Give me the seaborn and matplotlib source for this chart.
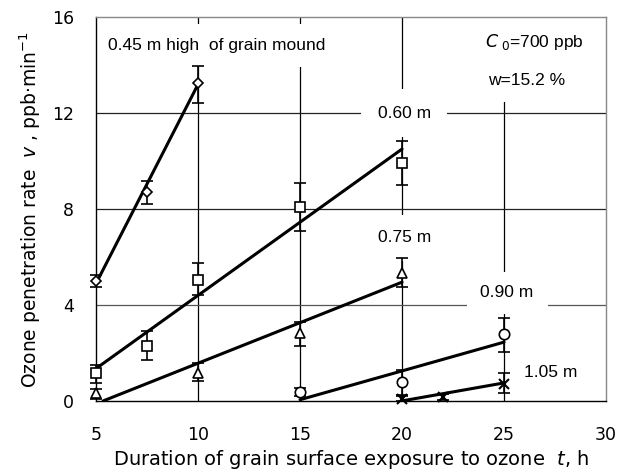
import matplotlib
matplotlib.use("Agg")
import matplotlib.pyplot as plt
import seaborn as sns
import pandas as pd
import numpy as np

# ---- data ----
t_045 = [5, 7.5, 10]
v_045 = [5.0, 8.7, 13.25]
lo_045 = [4.75, 8.2, 12.4]
hi_045 = [5.25, 9.15, 13.95]
fit_t_045 = [5, 10]
fit_v_045 = [4.9, 13.2]

t_060 = [5, 7.5, 10, 15, 20]
v_060 = [1.15, 2.3, 5.05, 8.1, 9.9]
lo_060 = [0.75, 1.7, 4.4, 7.1, 9.0]
hi_060 = [1.5, 2.9, 5.75, 9.1, 10.85]
fit_t_060 = [5, 20]
fit_v_060 = [1.35, 10.5]

t_075 = [5, 10, 15, 20]
v_075 = [0.32, 1.15, 2.85, 5.35]
lo_075 = [0.1, 0.85, 2.3, 4.75]
hi_075 = [0.5, 1.6, 3.3, 5.95]
fit_t_075 = [5.35, 20]
fit_v_075 = [0.0, 4.95]

t_090 = [15, 20, 25]
v_090 = [0.37, 0.8, 2.8]
lo_090 = [0.2, 0.25, 2.05]
hi_090 = [0.55, 1.3, 3.45]
fit_t_090 = [15, 25]
fit_v_090 = [0.05, 2.45]

t_105 = [20, 22, 25]
v_105 = [0.08, 0.15, 0.7]
lo_105 = [0.0, 0.05, 0.33]
hi_105 = [0.2, 0.3, 1.15]
fit_t_105 = [20, 25]
fit_v_105 = [0.0, 0.75]

series = [
    ("0.45 m", t_045, v_045, lo_045, hi_045, fit_t_045, fit_v_045, "D", 5.5),
    ("0.60 m", t_060, v_060, lo_060, hi_060, fit_t_060, fit_v_060, "s", 7.5),
    ("0.75 m", t_075, v_075, lo_075, hi_075, fit_t_075, fit_v_075, "^", 7.5),
    ("0.90 m", t_090, v_090, lo_090, hi_090, fit_t_090, fit_v_090, "o", 7.5),
    ("1.05 m", t_105, v_105, lo_105, hi_105, fit_t_105, fit_v_105, "x", 7),
]

x_ticks = [5, 10, 15, 20, 25, 30]
y_ticks = [0, 4, 8, 12, 16]

sns.set_theme(style="white")
plt.rcParams["font.family"] = ["DejaVu Sans"]
plt.rcParams["mathtext.fontset"] = "custom"
plt.rcParams["mathtext.rm"] = "DejaVu Sans"
plt.rcParams["mathtext.it"] = "DejaVu Sans:italic"
for key in ["text.color", "axes.labelcolor", "xtick.color", "ytick.color"]:
    plt.rcParams[key] = "black"

fig = plt.figure(figsize=(6.28, 4.75), dpi=100)
ax = fig.add_axes([0.153, 0.156, 0.812, 0.808])

# grid lines
for xv in [10, 15, 20, 25]:
    ax.axvline(xv, color="black", lw=0.9, zorder=1)
for yv, col in [(4, "#555555"), (8, "#222222"), (12, "#222222")]:
    ax.axhline(yv, color=col, lw=0.9, zorder=1)

for name, t, v, lo, hi, ft, fv, mk, ms in series:
    df_fit = pd.DataFrame({"t": ft, "v": fv})
    sns.lineplot(data=df_fit, x="t", y="v", ax=ax, color="black", lw=2.2, zorder=4)
    yerr = [np.array(v) - np.array(lo), np.array(hi) - np.array(v)]
    eb = ax.errorbar(t, v, yerr=yerr, fmt="none", ecolor="black", elinewidth=1.2,
                     capsize=4.5, capthick=1.2, zorder=5)
    for art in eb.lines[1] + eb.lines[2]:
        art.set_clip_on(False)
    if mk == "x":
        ax.plot(t, v, ls="none", marker=mk, ms=ms, mec="black", mew=1.5, zorder=6,
                clip_on=False)
    else:
        ax.plot(t, v, ls="none", marker=mk, ms=ms, mfc="white", mec="black",
                mew=1.2, zorder=6, clip_on=False)

ax.set_xlim(5, 30)
ax.set_ylim(0, 16)
ax.set_xticks(x_ticks)
ax.set_yticks(y_ticks)
ax.tick_params(axis="both", which="major", direction="out", length=8, width=0.9,
               color="black", labelcolor="black", labelsize=12.5, pad=8)
ax.tick_params(axis="x", pad=10)

for side in ["left", "bottom"]:
    ax.spines[side].set_color("black")
    ax.spines[side].set_linewidth(1.0)
for side in ["top", "right"]:
    ax.spines[side].set_color("#888888")
    ax.spines[side].set_linewidth(1.0)

ax.set_xlabel("Duration of grain surface exposure to ozone  $\\it{t}$, h", fontsize=14,
              labelpad=3, color="black")
ax.set_ylabel("Ozone penetration rate  $\\it{v}$ , ppb·min$^{-1}$", fontsize=13.5,
              labelpad=6, color="black")

fs = 12.5
def label(x, y, s, pad=10, z=2):
    ax.text(x, y, s, fontsize=fs, ha="center", va="center", color="black",
            family=["Liberation Sans", "DejaVu Sans"], zorder=z,
            bbox=dict(facecolor="white", edgecolor="none", pad=pad))

label(10.9, 14.8, "0.45 m high  of grain mound")
label(26.1, 13.35, "w=15.2 %")
label(26.5, 14.95, "$\\it{C}$$_{\\ 0}$=700 ppb", z=2.1)
label(20.1, 12.0, "0.60 m", pad=12)
label(20.15, 6.8, "0.75 m", pad=11)
label(25.15, 4.5, "0.90 m")
label(27.3, 1.17, "1.05 m")

fig.savefig("out.png", dpi=100)
